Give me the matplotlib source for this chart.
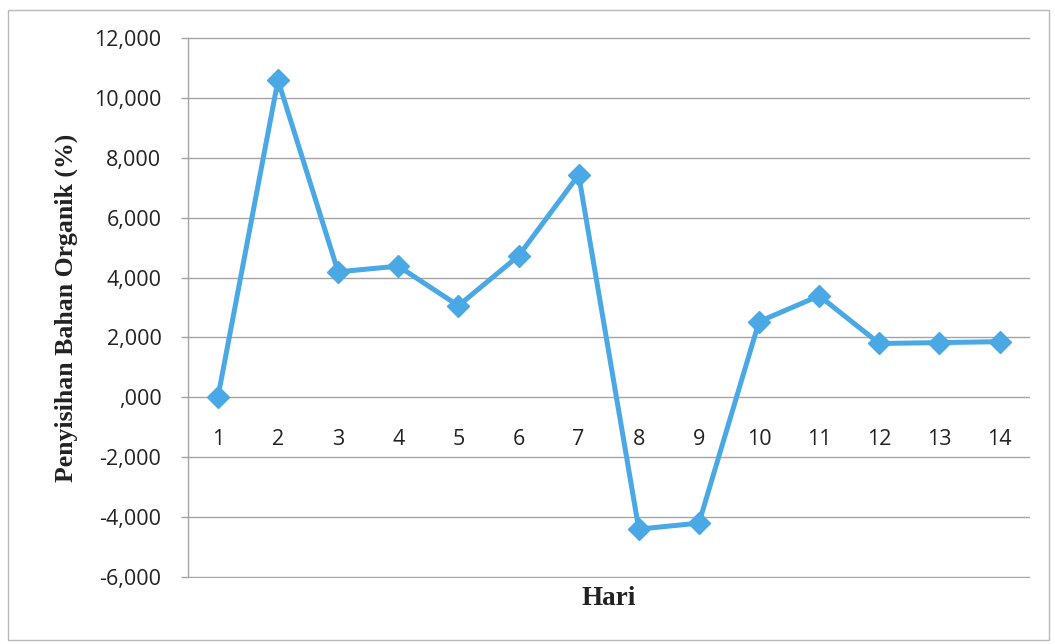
import matplotlib
matplotlib.use("Agg")
import matplotlib.pyplot as plt
from matplotlib.ticker import FuncFormatter, MultipleLocator
from matplotlib.patches import Rectangle

days = [1, 2, 3, 4, 5, 6, 7, 8, 9, 10, 11, 12, 13, 14]
removal = [0.00, 10.58, 4.19, 4.38, 3.06, 4.72, 7.42,
           -4.39, -4.19, 2.53, 3.39, 1.80, 1.83, 1.86]
y_min, y_max, y_step = -6, 12, 2

line_color = "#4aa8e4"
grid_color = "#a4a4a4"
text_color = "#222222"


def id_fmt(v, _pos):
    s = f"{abs(v):.3f}".replace(".", ",")
    if s.startswith("0,"):
        s = s[1:]
    return ("-" if v < -1e-9 else "") + s


fig = plt.figure(figsize=(10.55, 6.44), dpi=100)
fig.patches.append(Rectangle((0.008, 0.006), 0.986, 0.978, transform=fig.transFigure,
                             fill=False, edgecolor="#b8b8b8", linewidth=1.0))
ax = fig.add_axes([0.178, 0.1025, 0.798, 0.84])

x = list(range(len(days)))
ax.plot(x, removal, color=line_color, linewidth=3.6, marker="D",
        markersize=11, markerfacecolor=line_color, markeredgecolor=line_color,
        zorder=3)

ax.set_xlim(-0.5, len(days) - 0.5)
ax.set_ylim(y_min - 0.02, y_max + 0.02)
ax.yaxis.set_major_locator(MultipleLocator(y_step))
ax.yaxis.set_major_formatter(FuncFormatter(id_fmt))
ax.grid(axis="y", color=grid_color, linewidth=1.0)
ax.set_axisbelow(True)

for side in ("top", "right", "bottom"):
    ax.spines[side].set_visible(False)
ax.spines["left"].set_color(grid_color)
ax.spines["left"].set_linewidth(1.0)
ax.spines["left"].set_bounds(y_min, y_max)

ax.set_xticks([])
ax.tick_params(axis="y", length=5, width=1.0, color=grid_color, pad=14,
               labelsize=15.5, labelcolor=text_color)
for lbl in ax.get_yticklabels():
    lbl.set_fontfamily("Open Sans")

# category labels sit just below the zero line
for xi, d in zip(x, days):
    ax.text(xi, -1.05, str(d), ha="center", va="top", fontsize=15.5,
            family="Open Sans", color=text_color)

ax.set_ylabel("Penyisihan Bahan Organik (%)", family="Liberation Serif",
              fontweight="bold", fontsize=18.5, color=text_color)
ax.yaxis.set_label_coords(-0.131, 0.5)
ax.set_xlabel("Hari", family="Liberation Serif", fontweight="bold",
              fontsize=19.5, labelpad=6, color=text_color)

fig.savefig("out.png", dpi=100)
